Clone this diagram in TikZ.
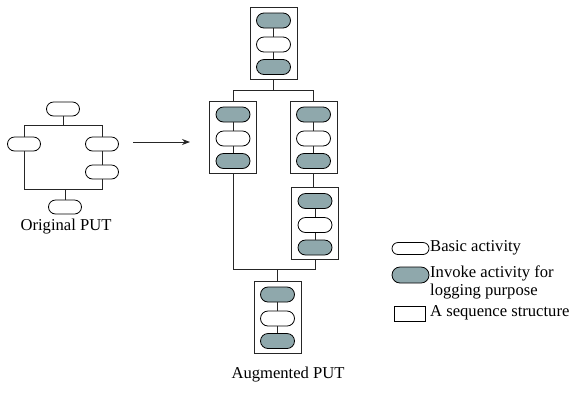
\documentclass[tikz,border=0pt]{standalone}
\usepackage{fontspec}
\setmainfont{Liberation Serif}
\usetikzlibrary{arrows.meta}
\definecolor{invk}{RGB}{143,168,172}
\tikzset{
  pill/.style={draw=black, line width=0.8pt, rounded corners=7.5pt, minimum width=34pt, minimum height=15pt, inner sep=0pt},
  basicpill/.style={pill, fill=white},
  invpill/.style={pill, fill=invk},
  seqbox/.style={draw=black!85, line width=1pt, minimum width=47pt, minimum height=72pt, inner sep=0pt, fill=white},
  conn/.style={draw=black!85, line width=0.8pt},
  lbl/.style={font=\fontsize{16.6}{19}\selectfont, inner sep=0pt},
}
\newcommand\seqblock[3]{%
  \node[seqbox] (#1) at (#2,#3) {};
  \node[invpill] (#1-1) at (#2,#3-22.5) {};
  \node[basicpill] (#1-2) at (#2,#3+1.5) {};
  \node[invpill] (#1-3) at (#2,#3+24) {};
  \draw[conn] (#1-1) -- (#1-2);
  \draw[conn] (#1-2) -- (#1-3);
}
\begin{document}
\begin{tikzpicture}[x=1pt,y=-1pt]
\useasboundingbox (0,0) rectangle (572,392);
% Original PUT
\tikzset{opill/.style={basicpill, minimum width=33pt, minimum height=14pt, rounded corners=7pt}}
\node[opill] (o1) at (63,109) {};
\node[opill] (o2) at (24,144) {};
\node[opill] (o3) at (102,144) {};
\node[opill] (o4) at (102,172) {};
\node[opill] (o5) at (65,207) {};
\coordinate (obar) at (0,125);
\coordinate (obarb) at (0,189);
\draw[conn] (o1.south) -- (o1.south |- obar);
\draw[conn] (o2.north) -- (o2.north |- obar) -- (o3.north |- obar) -- (o3.north);
\draw[conn] (o3.south) -- (o4.north);
\draw[conn] (o2.south) -- (o2.south |- obarb) -- (o4.south |- obarb) -- (o4.south);
\draw[conn] (o5.north) -- (o5.north |- obarb);
\node[lbl] (olbl) at (66,227) {Original PUT};
% Arrow
\coordinate (a1) at (133,142);
\coordinate (a2) at (190,142);
\draw[conn, -{Stealth[length=8pt,width=6pt]}] (a1) -- (a2);
% Augmented PUT
\seqblock{T}{273.5}{43}
\seqblock{L}{233}{137}
\seqblock{R}{313.5}{137}
\seqblock{R2}{315}{223.5}
\seqblock{B}{277.5}{317}
\coordinate (tbar) at (0,90);
\coordinate (bbar) at (0,269);
\draw[conn] (T.south) -- (T.south |- tbar);
\draw[conn] (L.north) -- (L.north |- tbar) -- (R.north |- tbar) -- (R.north);
\draw[conn] (R.south) -- (R.south |- R2.north);
\draw[conn] (L.south) -- (L.south |- bbar) -- (R2.south |- bbar) -- (R2.south);
\draw[conn] (B.north) -- (B.north |- bbar);
\node[lbl] (albl) at (288,375) {Augmented PUT};
% Legend
\node[basicpill, minimum width=37pt, minimum height=12pt, rounded corners=6pt] (lg1) at (410.5,248.5) {};
\node[invpill, minimum width=37pt, minimum height=16pt, rounded corners=8pt] (lg2) at (410.5,275) {};
\node[draw=black, line width=0.8pt, minimum width=31pt, minimum height=15pt, inner sep=0pt] (lg3) at (409.5,313.5) {};
\node[lbl, anchor=west] (t1) at (430,248) {Basic activity};
\node[lbl, anchor=west] (t2) at (430,273) {Invoke activity for};
\node[lbl, anchor=west] (t3) at (430,292) {logging purpose};
\node[lbl, anchor=west] (t4) at (430,313) {A sequence structure};
\end{tikzpicture}
\end{document}
